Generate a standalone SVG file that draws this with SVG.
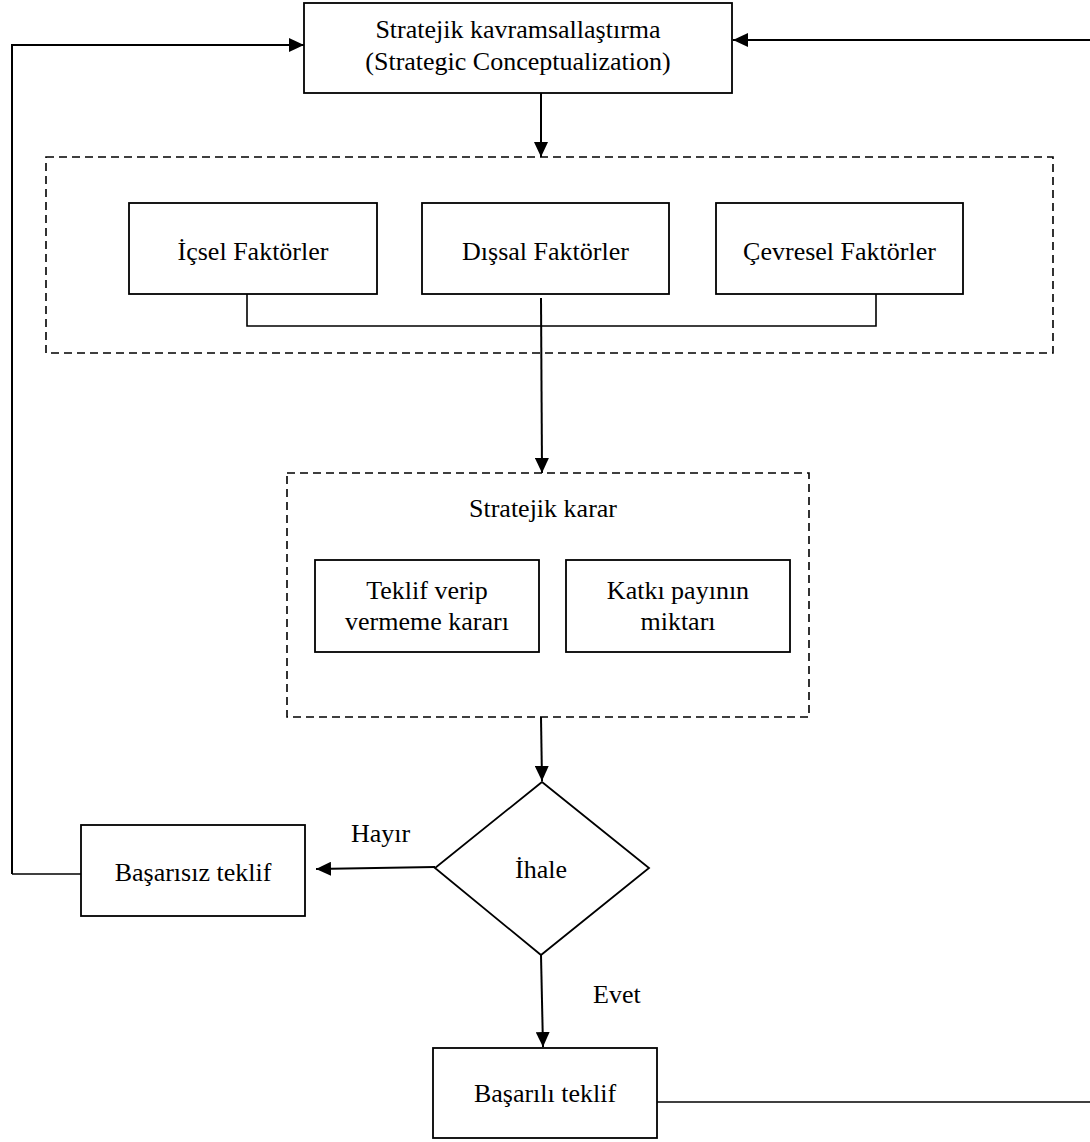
<svg xmlns="http://www.w3.org/2000/svg" width="1090" height="1142" viewBox="0 0 1090 1142">
<style>
  .box { fill: #fff; stroke: #000; stroke-width: 1.8; }
  .dash { fill: none; stroke: #000; stroke-width: 1.6; stroke-dasharray: 8 5; }
  .line { fill: none; stroke: #000; stroke-width: 2; }
  .thin { fill: none; stroke: #000; stroke-width: 1.6; }
  text { font-family: "Liberation Serif", "Times New Roman", serif; font-size: 26px; fill: #000; }
  .c { text-anchor: middle; }
</style>
<defs>
  <marker id="arr" markerUnits="userSpaceOnUse" markerWidth="15" markerHeight="14" refX="15" refY="7" orient="auto">
    <path d="M0,0 L15,7 L0,14 z" fill="#000"/>
  </marker>
</defs>
<rect width="1090" height="1142" fill="#fff"/>

<g id="group-factors">
  <rect class="dash" x="46" y="157" width="1007" height="196"/>
</g>
<g id="group-decision">
  <rect class="dash" x="287" y="473" width="522" height="244"/>
  <text class="c" x="543" y="517">Stratejik karar</text>
</g>

<g id="connectors">
  <polyline class="line" points="12,874 12,45 304,45" marker-end="url(#arr)"/>
  <line class="line" x1="1090" y1="40" x2="733" y2="40" marker-end="url(#arr)"/>
  <line class="line" x1="541" y1="93" x2="541" y2="157" marker-end="url(#arr)"/>
  <polyline class="thin" points="247,294 247,326 876,326 876,294"/>
  <line class="line" x1="541" y1="298" x2="542" y2="473" marker-end="url(#arr)"/>
  <line class="line" x1="541" y1="717" x2="542" y2="781" marker-end="url(#arr)"/>
  <line class="line" x1="435" y1="867" x2="316" y2="869" marker-end="url(#arr)"/>
  <line class="line" x1="541" y1="955" x2="543" y2="1047" marker-end="url(#arr)"/>
  <line class="thin" x1="81" y1="874" x2="12" y2="874"/>
  <line class="thin" x1="657" y1="1102" x2="1090" y2="1102"/>
  <text x="351" y="842">Hayır</text>
  <text x="593" y="1003">Evet</text>
</g>

<g id="node-strategic">
  <rect class="box" x="304" y="3" width="428" height="90"/>
  <text class="c" x="518" y="38">Stratejik kavramsallaştırma</text>
  <text class="c" x="518" y="70">(Strategic Conceptualization)</text>
</g>
<g id="node-icsel">
  <rect class="box" x="129" y="203" width="248" height="91"/>
  <text class="c" x="253" y="260">İçsel Faktörler</text>
</g>
<g id="node-dissal">
  <rect class="box" x="422" y="203" width="247" height="91"/>
  <text class="c" x="545.5" y="260">Dışsal Faktörler</text>
</g>
<g id="node-cevresel">
  <rect class="box" x="716" y="203" width="247" height="91"/>
  <text class="c" x="839.5" y="260">Çevresel Faktörler</text>
</g>
<g id="node-teklif">
  <rect class="box" x="315" y="560" width="224" height="92"/>
  <text class="c" x="427" y="599">Teklif verip</text>
  <text class="c" x="427" y="630">vermeme kararı</text>
</g>
<g id="node-katki">
  <rect class="box" x="566" y="560" width="224" height="92"/>
  <text class="c" x="678" y="599">Katkı payının</text>
  <text class="c" x="678" y="630">miktarı</text>
</g>
<g id="node-ihale">
  <polygon class="box" points="542,782 649,868 541,955 435,868"/>
  <text class="c" x="541" y="878">İhale</text>
</g>
<g id="node-basarisiz">
  <rect class="box" x="81" y="825" width="224" height="91"/>
  <text class="c" x="193" y="881">Başarısız teklif</text>
</g>
<g id="node-basarili">
  <rect class="box" x="433" y="1048" width="224" height="90"/>
  <text class="c" x="545" y="1102">Başarılı teklif</text>
</g>
</svg>
